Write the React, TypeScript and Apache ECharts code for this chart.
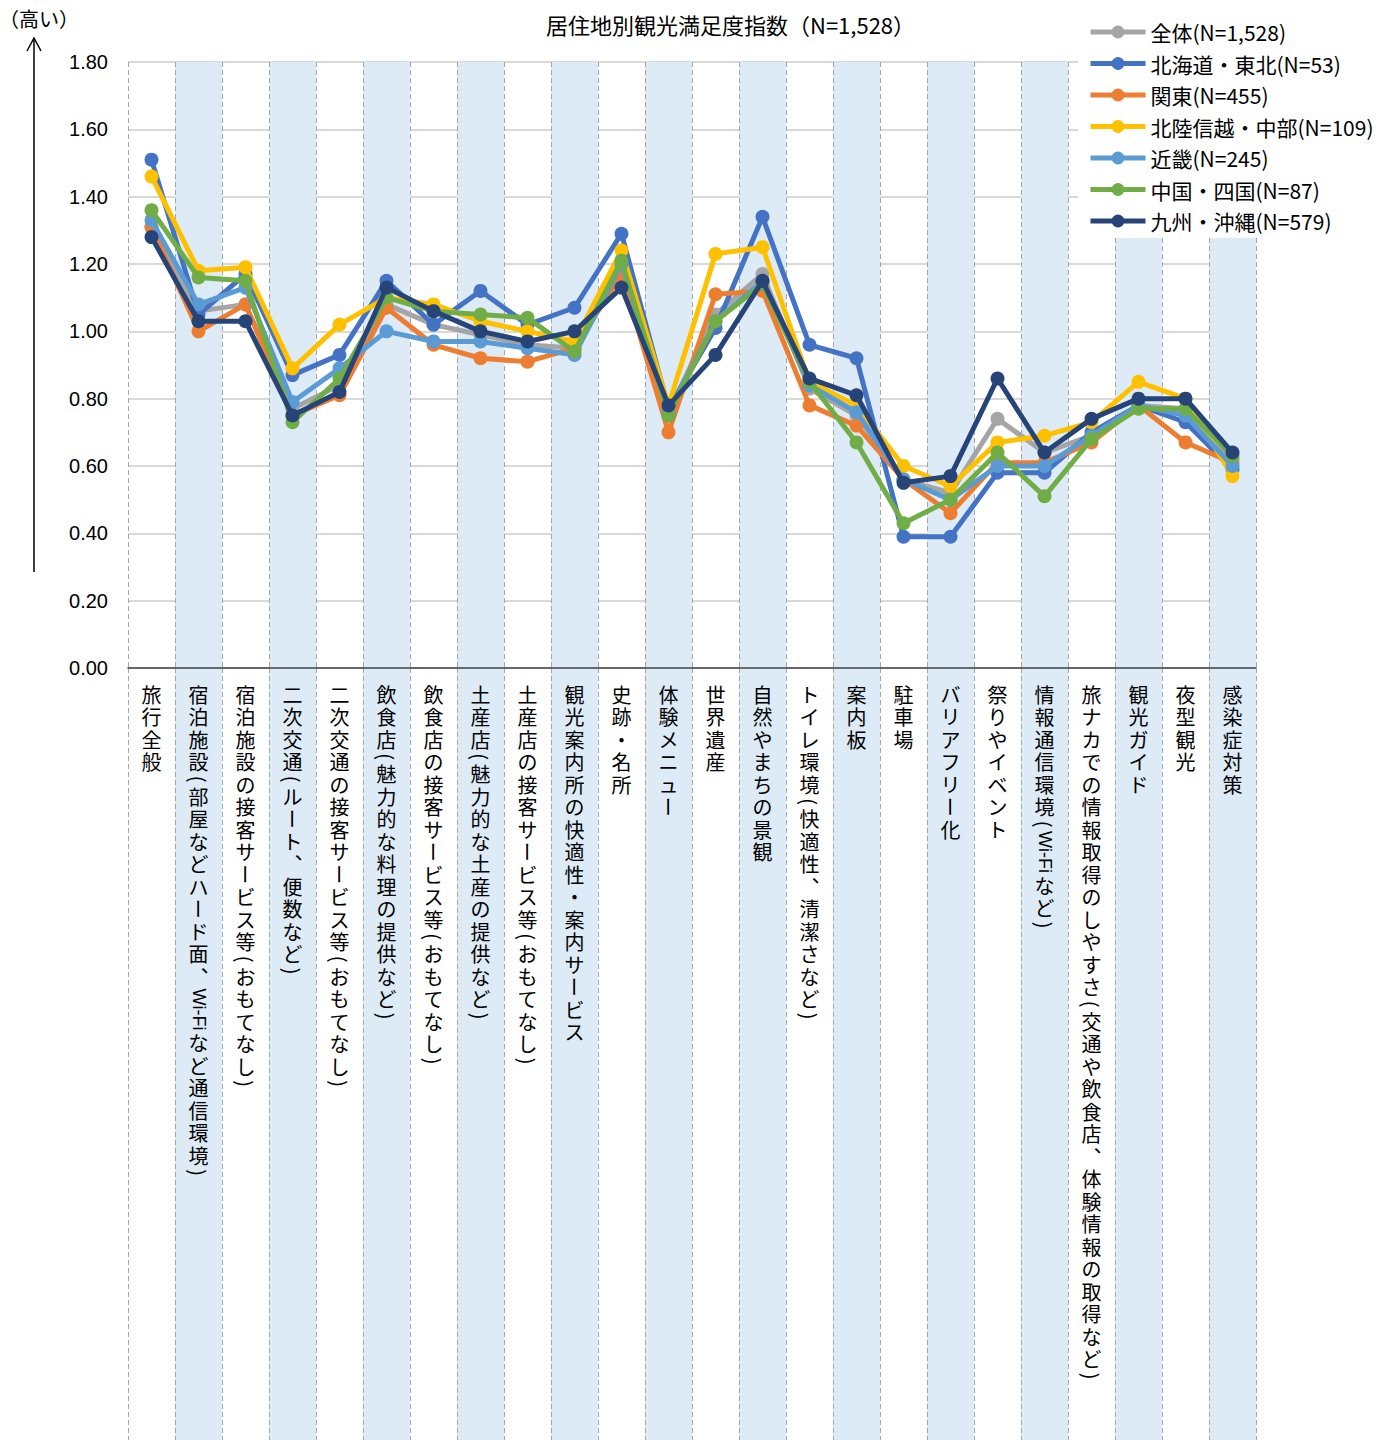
import React, { useEffect, useRef } from "react";
import * as echarts from "echarts";

const categories = [
  "旅行全般",
  "宿泊施設（部屋などハード面、Wi-Fiなど通信環境）",
  "宿泊施設の接客サービス等（おもてなし）",
  "二次交通（ルート、便数など）",
  "二次交通の接客サービス等（おもてなし）",
  "飲食店（魅力的な料理の提供など）",
  "飲食店の接客サービス等（おもてなし）",
  "土産店（魅力的な土産の提供など）",
  "土産店の接客サービス等（おもてなし）",
  "観光案内所の快適性・案内サービス",
  "史跡・名所",
  "体験メニュー",
  "世界遺産",
  "自然やまちの景観",
  "トイレ環境（快適性、清潔さなど）",
  "案内板",
  "駐車場",
  "バリアフリー化",
  "祭りやイベント",
  "情報通信環境（Wi-Fiなど）",
  "旅ナカでの情報取得のしやすさ（交通や飲食店、体験情報の取得など）",
  "観光ガイド",
  "夜型観光",
  "感染症対策",
];

const seriesNames = [
  "全体(N=1,528)",
  "北海道・東北(N=53)",
  "関東(N=455)",
  "北陸信越・中部(N=109)",
  "近畿(N=245)",
  "中国・四国(N=87)",
  "九州・沖縄(N=579)",
];

const seriesColors = ["#A5A5A5", "#4472C4", "#ED7D31", "#FFC000", "#5B9BD5", "#70AD47", "#264478"];

const zentai = [1.31, 1.06, 1.08, 0.77, 0.84, 1.08, 1.02, 0.99, 0.96, 0.95, 1.19, 0.76, 1.05, 1.17, 0.83, 0.75, 0.56, 0.52, 0.74, 0.64, 0.69, 0.78, 0.77, 0.62];
const hokkaidoTohoku = [1.51, 1.05, 1.17, 0.87, 0.93, 1.15, 1.02, 1.12, 1.02, 1.07, 1.29, 0.77, 1.01, 1.34, 0.96, 0.92, 0.39, 0.39, 0.58, 0.58, 0.7, 0.78, 0.73, 0.59];
const kanto = [1.31, 1.0, 1.08, 0.75, 0.81, 1.07, 0.96, 0.92, 0.91, 0.95, 1.17, 0.7, 1.11, 1.12, 0.78, 0.72, 0.56, 0.46, 0.61, 0.61, 0.67, 0.78, 0.67, 0.61];
const hokurikuChubu = [1.46, 1.18, 1.19, 0.89, 1.02, 1.1, 1.08, 1.03, 1.0, 0.97, 1.24, 0.78, 1.23, 1.25, 0.85, 0.78, 0.6, 0.54, 0.67, 0.69, 0.73, 0.85, 0.8, 0.57];
const kinki = [1.33, 1.08, 1.13, 0.79, 0.89, 1.0, 0.97, 0.97, 0.95, 0.93, 1.2, 0.76, 1.03, 1.15, 0.84, 0.76, 0.56, 0.5, 0.6, 0.6, 0.69, 0.78, 0.75, 0.6];
const chugokuShikoku = [1.36, 1.16, 1.15, 0.73, 0.86, 1.1, 1.06, 1.05, 1.04, 0.94, 1.21, 0.75, 1.03, 1.14, 0.85, 0.67, 0.43, 0.5, 0.64, 0.51, 0.68, 0.77, 0.77, 0.63];
const kyushuOkinawa = [1.28, 1.03, 1.03, 0.75, 0.82, 1.13, 1.06, 1.0, 0.97, 1.0, 1.13, 0.78, 0.93, 1.15, 0.86, 0.81, 0.55, 0.57, 0.86, 0.64, 0.74, 0.8, 0.8, 0.64];

const seriesData = [zentai, hokkaidoTohoku, kanto, hokurikuChubu, kinki, chugokuShikoku, kyushuOkinawa];

const JP = "'Noto Sans CJK JP', 'Noto Sans', sans-serif";
const FS = 20;
const PITCH = 22.5;
const PAREN = 12;
const WIFI = 44;

// Build vertical (tategaki) label pieces for one category
function verticalLabel(s: string, cx: number, startY: number): any[] {
  const els: any[] = [];
  let y = startY;
  let i = 0;
  while (i < s.length) {
    if (s.startsWith("Wi-Fi", i)) {
      els.push({
        type: "text",
        x: cx,
        y: y + WIFI / 2,
        rotation: -Math.PI / 2,
        silent: true,
        style: { text: "Wi-Fi", fontSize: 18, lineHeight: 18, fontFamily: "'Liberation Sans', sans-serif", fill: "#000", align: "center", verticalAlign: "middle" },
      });
      y += WIFI;
      i += 5;
      continue;
    }
    const ch = s[i];
    if (ch === "（" || ch === "）") {
      els.push({
        type: "text",
        x: cx,
        y: y + PAREN / 2,
        rotation: -Math.PI / 2,
        silent: true,
        style: { text: ch === "（" ? "(" : ")", fontSize: FS, lineHeight: 18, fontFamily: JP, fill: "#000", align: "center", verticalAlign: "middle" },
      });
      y += PAREN;
    } else if (ch === "ー") {
      els.push({
        type: "text",
        x: cx,
        y: y + PITCH / 2,
        rotation: -Math.PI / 2,
        silent: true,
        style: { text: "ー", fontSize: FS, lineHeight: 20, fontFamily: JP, fill: "#000", align: "center", verticalAlign: "middle" },
      });
      y += PITCH;
    } else {
      els.push({
        type: "text",
        x: cx,
        y: y + PITCH / 2,
        silent: true,
        style: { text: ch === "、" ? "︑" : ch, fontSize: FS, lineHeight: 21, fontFamily: JP, fill: "#000", align: "center", verticalAlign: "middle" },
      });
      y += PITCH;
    }
    i++;
  }
  return els;
}

export default function App() {
  const ref = useRef<HTMLDivElement>(null);
  useEffect(() => {
    if (!ref.current) return;
    const chart = echarts.init(ref.current, null, { renderer: "svg" });
    const bandColors = ["rgba(255,255,255,0)", "#DDEBF7"];
    const dashed = { show: true, interval: 0, lineStyle: { color: "#A6A6A6", width: 1, type: [5, 3] } };
    const option: any = {
      animation: false,
      backgroundColor: "#fff",
      title: {
        text: "居住地別観光満足度指数（N=1,528）",
        left: 541,
        top: 8,
        textStyle: { fontSize: 22, fontWeight: "normal", color: "#000", fontFamily: JP },
      },
      legend: {
        orient: "vertical",
        left: 1078,
        top: 12,
        padding: [9, 14, 6, 10],
        backgroundColor: "#fff",
        itemWidth: 55,
        itemHeight: 16,
        itemGap: 9.5,
        data: seriesNames,
        lineStyle: { width: 5 },
        textStyle: { fontSize: 21, lineHeight: 22, color: "#000", fontFamily: JP },
      },
      grid: [
        { left: 128, right: 141, top: 62, height: 606 },
        { left: 128, right: 141, top: 668, bottom: 0 },
      ],
      xAxis: [
        {
          type: "category",
          gridIndex: 0,
          data: categories,
          boundaryGap: true,
          z: 1,
          axisLine: { show: true, lineStyle: { color: "#404040", width: 1.5 } },
          axisTick: { show: false },
          axisLabel: { show: false },
          splitLine: dashed,
          splitArea: { show: true, interval: 0, areaStyle: { color: bandColors } },
        },
        {
          type: "category",
          gridIndex: 1,
          position: "top",
          data: categories,
          boundaryGap: true,
          axisLine: { show: false },
          axisTick: { show: false },
          axisLabel: { show: false },
          splitLine: dashed,
          splitArea: { show: true, interval: 0, areaStyle: { color: bandColors } },
        },
      ],
      yAxis: [
        {
          type: "value",
          gridIndex: 0,
          min: 0,
          max: 1.8,
          interval: 0.2,
          z: 0,
          axisLine: { show: false },
          axisTick: { show: false },
          axisLabel: {
            margin: 20,
            fontSize: 20,
            color: "#000",
            fontFamily: "'Liberation Sans Narrow', 'Liberation Sans', sans-serif",
            formatter: (v: number) => v.toFixed(2),
          },
          splitLine: { show: true, lineStyle: { color: "#D9D9D9", width: 2 } },
        },
        { type: "value", gridIndex: 1, show: false, splitLine: { show: false } },
      ],
      series: seriesNames.map((name, i) => ({
        name,
        type: "line",
        xAxisIndex: 0,
        yAxisIndex: 0,
        data: seriesData[i],
        symbol: "circle",
        symbolSize: 14,
        color: seriesColors[i],
        lineStyle: { width: 5, color: seriesColors[i] },
        itemStyle: { color: seriesColors[i] },
        z: 3 + i,
      })),
    };
    chart.setOption(option);

    const y0 = chart.convertToPixel({ yAxisIndex: 0 }, 0) as number;
    const labelEls: any[] = [];
    categories.forEach((cat, i) => {
      const cx = chart.convertToPixel({ xAxisIndex: 0 }, i) as number;
      labelEls.push(...verticalLabel(cat, cx, y0 + 15));
    });

    chart.setOption({
      graphic: [
        {
          type: "text",
          left: -1,
          top: 8,
          style: { text: "（高い）", fontSize: 20, fill: "#000", fontFamily: JP },
        },
        {
          type: "line",
          shape: { x1: 34, y1: 39, x2: 34, y2: 572 },
          style: { stroke: "#000", lineWidth: 1.5 },
        },
        {
          type: "polyline",
          shape: { points: [[27, 51], [34, 38], [41, 51]] },
          style: { stroke: "#000", lineWidth: 1.5, fill: "none" },
        },
        ...labelEls,
      ],
    });
    return () => chart.dispose();
  }, []);
  return (
    <div
      ref={ref}
      style={{ position: "absolute", left: 0, top: 0, width: 1397, height: 1440 }}
    />
  );
}
